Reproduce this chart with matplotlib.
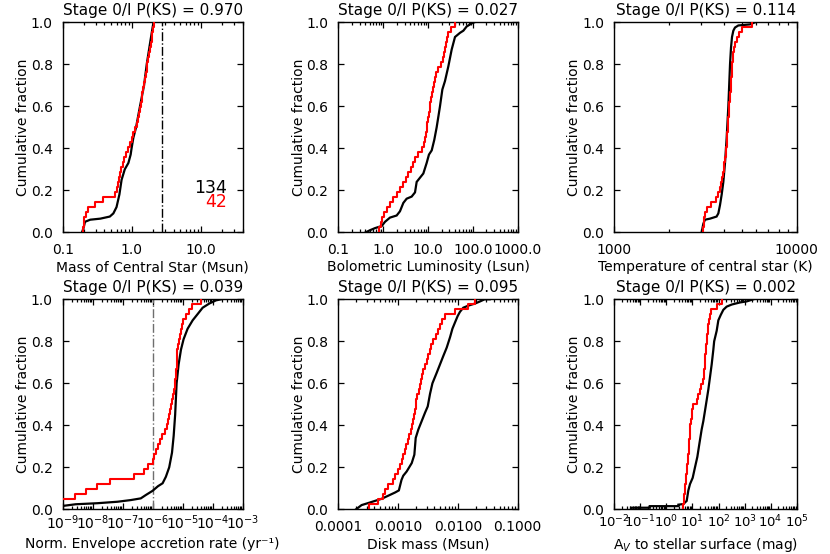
import numpy as np
import matplotlib
matplotlib.use("Agg")
import matplotlib.pyplot as plt
from matplotlib.ticker import FixedLocator, FixedFormatter, LogLocator, NullFormatter

plt.rcParams['font.family'] = ['DejaVu Sans']
plt.rcParams['mathtext.fontset'] = 'dejavusans'

# ---------------- data ----------------
titles = ["Stage 0/I P(KS) = 0.970", "Stage 0/I P(KS) = 0.027", "Stage 0/I P(KS) = 0.114",
          "Stage 0/I P(KS) = 0.039", "Stage 0/I P(KS) = 0.095", "Stage 0/I P(KS) = 0.002"]
xlabels = ["Mass of Central Star (Msun)", "Bolometric Luminosity (Lsun)",
           "Temperature of central star (K)", "Norm. Envelope accretion rate (yr\u207b\u00b9)",
           "Disk mass (Msun)", "A$_V$ to stellar surface (mag)"]
n_black = 134
n_red = 42

# Panel 1: stellar mass
mass_red = [0.199, 0.200, 0.201, 0.215, 0.234, 0.293, 0.386, 0.57, 0.60, 0.64, 0.65, 0.68, 0.70, 0.75,
            0.77, 0.83, 0.88, 0.94, 1.00, 1.05, 1.11, 1.17, 1.21, 1.26, 1.31, 1.35, 1.38, 1.42, 1.46,
            1.50, 1.55, 1.58, 1.64, 1.67, 1.73, 1.77, 1.83, 1.87, 1.93, 1.97, 2.04, 2.08]
mass_black_x = [0.19, 0.20, 0.21, 0.25, 0.35, 0.48, 0.54, 0.60, 0.66, 0.71, 0.79, 0.89, 0.96, 0.99,
                1.05, 1.15, 1.31, 1.50, 1.64, 1.83, 2.05]
mass_black_f = [0.0, 0.02, 0.05, 0.06, 0.065, 0.075, 0.09, 0.12, 0.18, 0.25, 0.30, 0.33, 0.37, 0.40,
                0.45, 0.50, 0.60, 0.70, 0.80, 0.90, 1.0]
mass_vline = 2.7

# Panel 2: bolometric luminosity
lbol_red = [0.82, 0.90, 0.96, 1.06, 1.20, 1.42, 1.69, 2.0, 2.37, 2.82, 3.18, 3.64, 4.18, 4.71, 5.13,
            5.89, 7.23, 8.15, 8.58, 9.02, 9.33, 9.66, 10.0, 10.35, 10.9, 11.3, 11.7, 12.1, 12.7, 13.4,
            14.3, 15.3, 17.0, 19.2, 22.0, 23.1, 23.9, 24.8, 26.1, 28.4, 32.6, 40.0]
lbol_black_x = [0.41, 0.51, 0.66, 0.93, 1.10, 1.42, 2.0, 2.37, 2.82, 3.34, 4.32, 5.13, 5.59, 6.63, 7.87,
                9.33, 10.5, 12.1, 13.8, 15.6, 17.0, 18.5, 20.9, 23.9, 28.4, 33.7, 40.0, 51.8, 61.4,
                72.8, 94.2, 108.0]
lbol_black_f = [0.0, 0.01, 0.02, 0.03, 0.05, 0.07, 0.08, 0.10, 0.14, 0.16, 0.17, 0.19, 0.24, 0.26,
                0.28, 0.33, 0.37, 0.39, 0.44, 0.50, 0.55, 0.60, 0.68, 0.72, 0.79, 0.87, 0.93, 0.95,
                0.96, 0.98, 0.995, 1.0]

# Panel 3: stellar temperature
teff_red = [3075, 3103, 3115, 3140, 3230, 3370, 3590, 3719, 3780, 3850, 3890, 3945, 3980, 4010, 4045,
            4080, 4100, 4131, 4150, 4165, 4185, 4200, 4219, 4237, 4255, 4273, 4290, 4328, 4346, 4364,
            4383, 4400, 4419, 4438, 4475, 4494, 4550, 4608, 4688, 4807, 4993, 5666]
teff_black_x = [3013, 3075, 3140, 3347, 3637, 3719, 3798, 3879, 3961, 4045, 4131, 4219, 4310, 4364,
                4419, 4494, 4589, 4787, 5546, 5908]
teff_black_f = [0.0, 0.04, 0.06, 0.065, 0.075, 0.09, 0.13, 0.18, 0.24, 0.33, 0.45, 0.60, 0.80, 0.88,
                0.93, 0.96, 0.975, 0.985, 0.99, 1.0]

# Panel 4: normalised envelope accretion rate
acc_red = [5e-10, 8e-10, 2.57e-9, 5.9e-9, 1.44e-8, 3.7e-8, 2.4e-7, 5.2e-7, 7.09e-7, 9.9e-7, 1.1e-6,
           1.3e-6, 1.5e-6, 1.8e-6, 2.1e-6, 2.5e-6, 2.9e-6, 3.2e-6, 3.5e-6, 3.8e-6, 4.1e-6, 4.4e-6,
           4.8e-6, 5.1e-6, 5.4e-6, 5.7e-6, 6.0e-6, 6.2e-6, 6.4e-6, 6.5e-6, 6.6e-6, 6.7e-6, 6.8e-6,
           7.3e-6, 8.0e-6, 8.5e-6, 9.3e-6, 1.0e-5, 1.25e-5, 1.6e-5, 2.1e-5, 4.1e-5]
acc_black_x = [1e-9, 2.7e-9, 1.44e-8, 6.7e-8, 1.87e-7, 4.0e-7, 5.9e-7, 9.9e-7, 1.5e-6, 2.14e-6,
               2.75e-6, 3.55e-6, 4.4e-6, 5.0e-6, 5.6e-6, 6.27e-6, 7.31e-6, 8.75e-6, 1.07e-5, 1.46e-5,
               2.15e-5, 3.16e-5, 4.63e-5, 7.74e-5, 1.29e-4, 1.9e-4]
acc_black_f = [0.016, 0.024, 0.029, 0.036, 0.044, 0.052, 0.068, 0.088, 0.11, 0.124, 0.155, 0.20, 0.27,
               0.35, 0.45, 0.60, 0.69, 0.76, 0.81, 0.86, 0.90, 0.93, 0.96, 0.98, 0.995, 1.0]
acc_vline = 1e-6

# Panel 5: disk mass
disk_red = [3.3e-4, 4.7e-4, 5.5e-4, 6.0e-4, 6.9e-4, 8.3e-4, 9.0e-4, 1.0e-3, 1.08e-3, 1.15e-3, 1.22e-3,
            1.28e-3, 1.34e-3, 1.45e-3, 1.55e-3, 1.62e-3, 1.73e-3, 1.8e-3, 1.88e-3, 1.95e-3, 1.98e-3,
            2.02e-3, 2.05e-3, 2.2e-3, 2.3e-3, 2.4e-3, 2.5e-3, 2.65e-3, 2.8e-3, 3.0e-3, 3.15e-3,
            3.4e-3, 3.6e-3, 3.9e-3, 4.3e-3, 4.6e-3, 5.0e-3, 5.4e-3, 6.1e-3, 9.0e-3, 1.5e-2, 1.94e-2]
disk_black_x = [1.98e-4, 2.45e-4, 3.18e-4, 4.1e-4, 5.3e-4, 6.87e-4, 8.9e-4, 1.03e-3, 1.14e-3, 1.22e-3,
                1.39e-3, 1.69e-3, 1.87e-3, 1.97e-3, 2.18e-3, 2.48e-3, 2.82e-3, 3.13e-3, 3.42e-3,
                3.75e-3, 4.42e-3, 5.02e-3, 5.7e-3, 6.5e-3, 7.4e-3, 8.1e-3, 8.95e-3, 9.9e-3, 1.08e-2,
                1.23e-2, 1.5e-2, 1.94e-2, 2.35e-2, 2.8e-2, 3.4e-2]
disk_black_f = [0.0, 0.02, 0.03, 0.04, 0.05, 0.065, 0.08, 0.09, 0.14, 0.16, 0.18, 0.22, 0.26, 0.34,
                0.38, 0.42, 0.46, 0.49, 0.55, 0.60, 0.65, 0.69, 0.73, 0.77, 0.82, 0.86, 0.89, 0.92,
                0.94, 0.96, 0.97, 0.98, 0.99, 1.0, 1.0]

# Panel 6: A_V to stellar surface
av_red = [4.5, 4.6, 4.8, 5.0, 5.2, 5.5, 5.7, 6.0, 6.3, 6.6, 6.9, 7.2, 7.4, 7.6, 7.8, 7.9, 8.0, 8.8,
          9.5, 10.0, 10.8, 15.0, 17.0, 19.5, 22.0, 25.0, 27.0, 28.5, 29.0, 29.5, 30.5, 32.0, 33.5,
          35.0, 36.5, 38.0, 40.0, 44.0, 48.0, 52.0, 85.0, 132.0]
av_black_x = [0.044, 0.044, 0.23, 0.23, 2.87, 2.87, 4.46, 6.0, 6.94, 8.03, 10.2, 12.5, 15.4, 18.3,
              22.5, 26.1, 30.3, 35.1, 40.6, 47.1, 54.6, 63.2, 68.0, 84.9, 98.4, 121, 153, 205, 320,
              668, 1205, 2173]
av_black_f = [0.0, 0.0075, 0.0075, 0.015, 0.015, 0.022, 0.025, 0.04, 0.09, 0.12, 0.15, 0.20, 0.25,
              0.31, 0.38, 0.42, 0.47, 0.52, 0.57, 0.63, 0.69, 0.76, 0.80, 0.85, 0.90, 0.925, 0.95,
              0.965, 0.975, 0.985, 0.99, 1.0]

# axis ranges and tick labels
xlims = [(0.1, 40.0), (0.1, 1000.0), (1000.0, 10000.0), (1e-9, 1e-3), (1e-4, 0.1), (1e-2, 1e5)]
xticks = [[0.1, 1.0, 10.0], [0.1, 1.0, 10.0, 100.0, 1000.0], [1000.0, 10000.0],
          [1e-9, 1e-8, 1e-7, 1e-6, 1e-5, 1e-4, 1e-3], [1e-4, 1e-3, 1e-2, 1e-1],
          [1e-2, 1e-1, 1e0, 1e1, 1e2, 1e3, 1e4, 1e5]]
xticklabels = [["0.1", "1.0", "10.0"], ["0.1", "1.0", "10.0", "100.0", "1000.0"], ["1000", "10000"],
               ["$10^{-9}$", "$10^{-8}$", "$10^{-7}$", "$10^{-6}$", "$10^{-5}$", "$10^{-4}$", "$10^{-3}$"],
               ["0.0001", "0.0010", "0.0100", "0.1000"],
               ["$10^{-2}$", "$10^{-1}$", "$10^{0}$", "$10^{1}$", "$10^{2}$", "$10^{3}$", "$10^{4}$", "$10^{5}$"]]
yticks = [0.0, 0.2, 0.4, 0.6, 0.8, 1.0]
yticklabels = ["0.0", "0.2", "0.4", "0.6", "0.8", "1.0"]

reds = [mass_red, lbol_red, teff_red, acc_red, disk_red, av_red]
blacks_x = [mass_black_x, lbol_black_x, teff_black_x, acc_black_x, disk_black_x, av_black_x]
blacks_f = [mass_black_f, lbol_black_f, teff_black_f, acc_black_f, disk_black_f, av_black_f]

# ---------------- layout ----------------
W, H = 830, 554
fig = plt.figure(figsize=(W / 100, H / 100), dpi=100)
col_px = [(62.7, 180.0), (338.3, 179.4), (614.3, 182.4)]
row_px = [(22.3, 210.0), (299.3, 210.0)]
FS_TITLE = 11.0
FS_LAB = 10.0
FS_TICK = 10.0
xlab_y = [-0.132, -0.132, -0.132, -0.132, -0.132, -0.126]

for i in range(6):
    r, c = divmod(i, 3)
    x0, w = col_px[c]
    y0, h = row_px[r]
    ax = fig.add_axes([x0 / W, 1 - (y0 + h) / H, w / W, h / H])
    ax.set_xscale('log')
    ax.set_xlim(*xlims[i])
    ax.set_ylim(0.0, 1.0)

    ax.plot(blacks_x[i], blacks_f[i], color='black', lw=1.6, solid_joinstyle='miter', zorder=3)
    v = np.sort(np.asarray(reds[i], dtype=float))
    fr = np.arange(1, len(v) + 1) / len(v)
    ax.step(np.r_[v[0], v], np.r_[0.0, fr], where='post', color='#ff0000', lw=1.5, zorder=4)

    if i == 0:
        ax.axvline(mass_vline, color='black', lw=1.0, ls='-.', zorder=2)
        ax.text(0.911, 0.189, str(n_black), transform=ax.transAxes, ha='right', va='baseline',
                fontsize=12.5, color='black')
        ax.text(0.911, 0.122, str(n_red), transform=ax.transAxes, ha='right', va='baseline',
                fontsize=12.5, color='#ff0000')
    if i == 3:
        ax.axvline(acc_vline, color='#6e6e6e', lw=1.0, ls='-.', zorder=2)

    ax.xaxis.set_major_locator(FixedLocator(xticks[i]))
    ax.xaxis.set_major_formatter(FixedFormatter(xticklabels[i]))
    ax.xaxis.set_minor_locator(LogLocator(base=10, subs=np.arange(2, 10), numticks=20))
    ax.xaxis.set_minor_formatter(NullFormatter())
    ax.set_yticks(yticks)
    ax.set_yticklabels(yticklabels)

    ax.tick_params(which='both', direction='in', top=True, right=True, width=0.9)
    ax.tick_params(which='major', length=4.5)
    ax.tick_params(which='minor', length=2.2)
    mathlab = i in (3, 5)
    ax.tick_params(axis='x', which='major', pad=3.0 if mathlab else 7.5,
                   labelsize=9.5 if i == 5 else FS_TICK)
    ax.tick_params(axis='y', which='major', pad=7.2, labelsize=FS_TICK)
    for sp in ax.spines.values():
        sp.set_linewidth(1.0)

    ax.set_title(titles[i], fontsize=FS_TITLE, pad=5.5)
    ax.set_xlabel(xlabels[i], fontsize=FS_LAB)
    ax.xaxis.set_label_coords(0.5, xlab_y[i])
    ax.set_ylabel("Cumulative fraction", fontsize=FS_LAB)
    ax.yaxis.set_label_coords(-0.182, 0.5)

fig.savefig("out.png", dpi=100)
